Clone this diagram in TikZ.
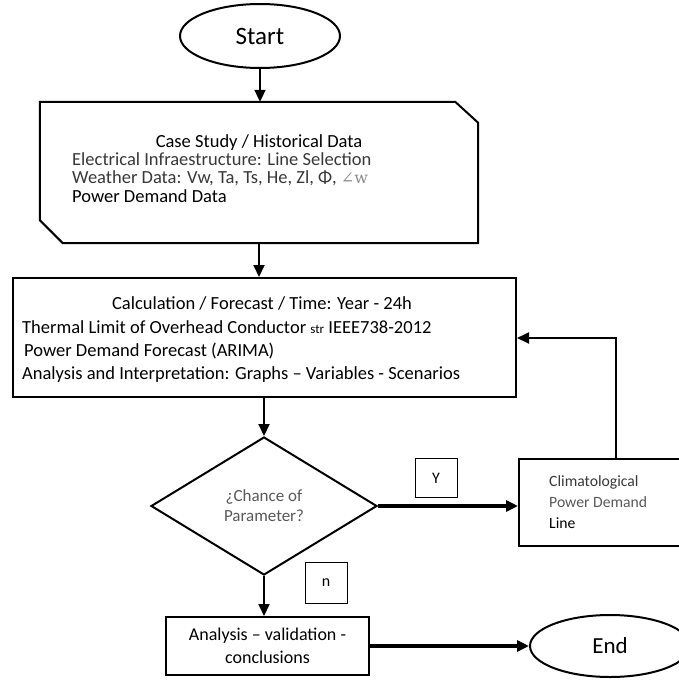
\documentclass[tikz,border=0pt]{standalone}
\usepackage{fontspec}
\setmainfont{Carlito}
\newfontfamily\symfont{DejaVu Serif}
\usetikzlibrary{shapes.geometric,arrows.meta}
\definecolor{gA}{gray}{0.22}
\definecolor{gB}{gray}{0.35}
\definecolor{gC}{gray}{0.55}
\begin{document}
\begin{tikzpicture}[x=1pt,y=-1pt,
  box/.style={draw,line width=2pt,inner sep=0pt},
  lbl/.style={draw,line width=1pt,inner sep=0pt,minimum width=42pt,minimum height=39pt,font=\fontsize{16}{19}\selectfont},
  arr/.style={line width=2pt,-{Triangle[length=12pt,width=11pt]}},
  thickarr/.style={line width=3.4pt,-{Triangle[length=12pt,width=11pt]}},
  txt/.style={inner sep=0pt,font=\fontsize{18.5}{22}\selectfont,text height=12pt,text depth=4pt},
  small/.style={inner sep=0pt,font=\fontsize{15.7}{21}\selectfont,text height=10pt,text depth=3pt}
]
\clip (0,0) rectangle (679,682);
\fill[white] (0,0) rectangle (679,682);

% Start
\node[ellipse,box,minimum width=160pt,minimum height=64pt,font=\fontsize{25}{30}\selectfont] (start) at (260,36) {Start};

% Case study box (chamfered)
\node[inner sep=0pt,minimum width=438pt,minimum height=141pt] (case) at (259,172.5) {};
\draw[line width=2pt,line join=miter] (case.north west) -- ([xshift=-23pt]case.north east) -- ([yshift=-21pt]case.north east) -- (case.south east) -- ([xshift=23pt]case.south west) -- ([yshift=23pt]case.south west) -- cycle;
\node[txt] (c1) at (259,143) {Case Study / Historical Data};
\node[txt,anchor=west,text=gA] (c2) at (72,161) {Electrical Infraestructure: Line Selection};
\node[txt,anchor=west,text=gA] (c3) at (72,179) {Weather Data: Vw, Ta, Ts, He, Zl, Φ, {\symfont\fontsize{16}{19}\selectfont\color{gC}∠w}};
\node[txt,anchor=west] (c4) at (72,198) {Power Demand Data};

% Calculation box
\node[box,minimum width=503pt,minimum height=119pt] (calc) at (264.5,337.5) {};
\node[txt] (k1) at (262,305) {Calculation / Forecast / Time: Year - 24h};
\node[txt,anchor=west] (k2) at (22,329) {Thermal Limit of Overhead Conductor {\fontsize{13}{15}\selectfont str} IEEE738-2012};
\node[txt,anchor=west] (k3) at (24,352) {Power Demand Forecast (ARIMA)};
\node[txt,anchor=west] (k4) at (22,375) {Analysis and Interpretation: Graphs -- Variables - Scenarios};

% Decision
\node[diamond,box,minimum width=226pt,minimum height=138pt,text=gB,align=center,font=\fontsize{17}{20}\selectfont] (dec) at (264,506) {¿Chance of\\Parameter?};

% Labels
\node[lbl] (yes) at (436,478) {Y};
\node[lbl,minimum height=41pt] (no) at (326,582.5) {n};

% Climatological box
\node[box,minimum width=181pt,minimum height=87pt] (clim) at (609.5,502.5) {};
\node[small,anchor=west,text=gA] (m1) at (549,483) {Climatological};
\node[small,anchor=west,text=gB] (m2) at (549,504) {Power Demand};
\node[small,anchor=west] (m3) at (549,525) {Line};

% Analysis box
\node[box,minimum width=203pt,minimum height=58pt,align=center,font=\fontsize{18}{23}\selectfont] (ana) at (267.5,646) {Analysis -- validation -\\conclusions};

% End
\node[ellipse,box,minimum width=160pt,minimum height=62pt,font=\fontsize{23}{28}\selectfont] (end) at (610,646) {End};

% Connectors
\draw[arr] (start.south) -- (start.south |- case.north);
\draw[arr] (case.south) -- (case.south |- calc.north);
\draw[arr] (dec.north |- calc.south) -- (dec.north);
\draw[thickarr] (dec.east) -- (dec.east -| clim.west);
\coordinate (fb) at (616,338);
\draw[arr] (fb |- clim.north) -- (fb) -- (fb -| calc.east);
\draw[arr] (dec.south) -- (dec.south |- ana.north);
\draw[thickarr] (ana.east) -- (end.west);
\end{tikzpicture}
\end{document}
